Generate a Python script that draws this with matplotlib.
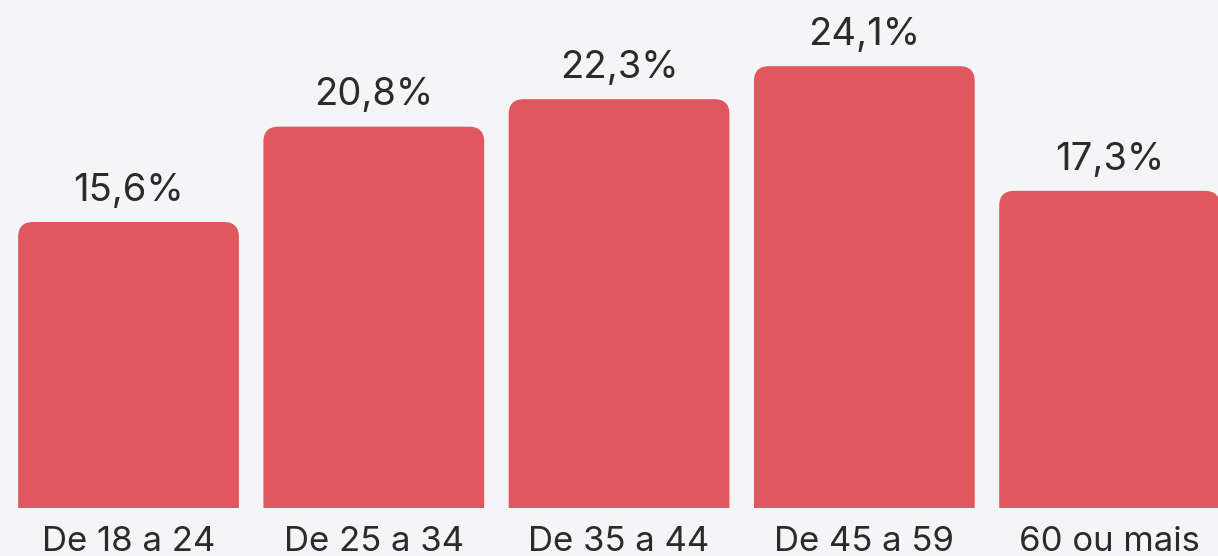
import numpy as np
import matplotlib.pyplot as plt
from matplotlib.patches import FancyBboxPatch

# Faixas etarias e percentuais
faixas = ['De 18 a 24', 'De 25 a 34', 'De 35 a 44', 'De 45 a 59', '60 ou mais']
valores = [15.6, 20.8, 22.3, 24.1, 17.3]
rotulos = ['15,6%', '20,8%', '22,3%', '24,1%', '17,3%']

fundo = '#f5f5f7'
cor_barra = '#e0575e'
cor_texto = '#2b2b2b'
plt.rcParams['font.family'] = ['Inter', 'DejaVu Sans']

fig = plt.figure(figsize=(12.18, 5.56), dpi=100, facecolor=fundo)
ax = fig.add_axes([0, 48/556, 1, 508/556])
ax.set_facecolor(fundo)

x = np.arange(len(faixas))
largura = 0.9
ax.set_xlim(-0.524, 4.442)
ax.set_ylim(0, 27.71)

# raio de ~15 px em unidades de dados
px_x = 4.966 / 1218
px_y = 27.71 / 508
raio = 15 * px_x
aspecto = px_y / px_x
for xi, v in zip(x, valores):
    base = -raio * aspecto * 2
    p = FancyBboxPatch((xi - largura/2, base), largura, v - base,
                       boxstyle='round,pad=0,rounding_size=%f' % raio,
                       mutation_aspect=aspecto, facecolor=cor_barra,
                       edgecolor='none')
    ax.add_patch(p)

for xi, v, r in zip(x, valores, rotulos):
    ax.annotate(r, (xi, v), xytext=(0, 9.5), textcoords='offset points',
                ha='center', va='bottom', fontsize=27.5, color=cor_texto)

ax.set_xticks(x)
ax.set_xticklabels(faixas, fontsize=25, color=cor_texto)
ax.tick_params(axis='x', length=0, pad=13)
ax.set_yticks([])
for s in ax.spines.values():
    s.set_visible(False)

fig.savefig('out.png', dpi=100, facecolor=fundo)
